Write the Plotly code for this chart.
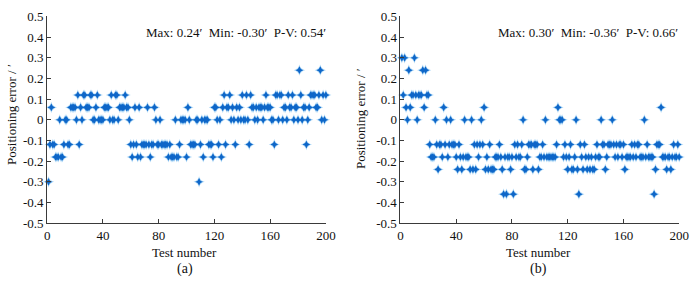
import plotly.graph_objects as go

# ---------------- data ----------------
test_a = list(range(1, 201))
err_a = [
    -0.30, -0.12, 0.06, -0.12, -0.12, -0.18, -0.18, -0.18, 0, -0.18,
    -0.18, -0.12, 0, 0, -0.12, -0.12, 0.06, 0.06, 0.06, 0.06,
    0, 0.12, -0.12, 0.06, 0, 0.12, 0.12, 0.06, 0.06, 0.06,
    0.12, 0.12, 0, 0, 0.06, 0.12, 0, 0, 0, 0,
    0.06, 0.06, 0.06, 0.06, 0, 0.12, 0, 0, 0.12, 0.12,
    0, 0.06, 0.06, 0.06, 0.06, 0.12, 0.06, 0.06, 0, -0.12,
    -0.18, -0.12, 0.06, -0.12, -0.18, 0.06, -0.18, -0.12, -0.12, -0.12,
    -0.12, 0.06, -0.12, -0.18, -0.12, -0.12, 0.06, 0, -0.12, -0.12,
    0, -0.12, -0.12, -0.12, -0.12, -0.12, -0.18, -0.12, -0.18, -0.18,
    -0.18, 0, -0.18, -0.18, -0.12, 0, 0, 0, 0, -0.18,
    0.06, 0, -0.12, -0.12, -0.12, -0.12, 0, 0, -0.30, -0.12,
    0, -0.18, 0, 0, 0, -0.12, -0.12, -0.12, -0.18, 0.06,
    0.06, 0, -0.12, 0, -0.18, 0.06, 0.12, -0.12, 0.06, 0.06,
    0.12, 0, 0.06, 0, -0.12, 0.06, 0, 0.06, 0, 0.12,
    0, 0, 0.12, 0, -0.12, 0.12, 0.06, 0.06, 0, 0.06,
    0, 0.06, 0.06, 0.06, 0, 0.06, 0.12, 0.06, 0.06, 0.06,
    0, 0, -0.12, 0.12, 0.12, 0, 0.12, 0.12, 0, 0.06,
    0.06, 0, 0.12, 0.06, 0.06, 0.12, 0, 0.06, 0.06, 0,
    0.24, 0.12, 0, 0.06, 0.06, -0.12, 0, 0.06, 0.12, 0.12,
    0.12, 0.12, 0.06, 0.06, 0.12, 0.24, 0, 0.12, 0, 0.12,
]

test_b = list(range(1, 201))
err_b = [
    0.30, 0.12, 0.30, 0.06, 0, 0.24, 0.06, 0.12, 0.12, 0.30,
    0.12, 0, 0.12, 0.12, 0.12, 0.24, 0.06, 0.24, 0.12, 0.12,
    -0.12, -0.18, -0.18, -0.18, 0, -0.12, -0.24, -0.12, -0.12, -0.18,
    0.06, -0.12, 0, -0.18, -0.12, 0, -0.12, -0.12, -0.12, -0.18,
    -0.24, -0.12, -0.18, -0.24, -0.18, 0, -0.18, -0.18, -0.18, -0.24,
    0, -0.24, -0.12, -0.24, -0.12, -0.18, -0.12, 0, -0.12, 0.06,
    -0.24, -0.18, -0.24, -0.12, -0.24, -0.24, -0.24, -0.18, -0.18, -0.18,
    -0.12, -0.18, -0.24, -0.36, -0.18, -0.36, -0.18, -0.18, -0.24, -0.18,
    -0.36, -0.12, -0.18, -0.12, -0.18, -0.18, -0.12, 0, -0.24, -0.24,
    -0.18, -0.12, -0.12, -0.12, -0.24, -0.12, -0.12, -0.12, -0.24, -0.18,
    -0.18, -0.12, -0.18, 0, -0.18, -0.18, -0.18, -0.18, -0.18, -0.18,
    -0.18, -0.12, 0.06, 0, 0, 0, -0.18, -0.12, -0.18, -0.24,
    -0.18, -0.12, -0.24, -0.24, -0.18, 0, -0.24, -0.36, -0.12, -0.18,
    -0.24, -0.12, -0.18, -0.24, -0.18, -0.24, -0.18, -0.24, -0.24, -0.18,
    -0.12, -0.18, -0.18, 0, -0.12, -0.12, -0.24, -0.18, -0.12, -0.12,
    -0.12, 0, -0.12, -0.18, -0.12, -0.18, -0.12, -0.12, -0.18, -0.12,
    -0.24, -0.18, -0.18, -0.18, -0.18, -0.12, -0.18, -0.12, -0.18, -0.12,
    -0.12, -0.18, -0.18, -0.18, 0, -0.18, -0.12, -0.18, -0.18, -0.18,
    -0.18, -0.36, -0.24, -0.12, -0.12, -0.12, 0.06, -0.18, -0.18, -0.18,
    -0.24, -0.18, -0.18, -0.24, -0.18, -0.12, -0.18, -0.18, -0.12, -0.18,
]

x_ticks = [0, 40, 80, 120, 160, 200]
y_ticks = [0.5, 0.4, 0.3, 0.2, 0.1, 0, -0.1, -0.2, -0.3, -0.4, -0.5]
y_tick_labels = ["0.5", "0.4", "0.3", "0.2", "0.1", "0", "-0.1", "-0.2", "-0.3", "-0.4", "-0.5"]
stats_a = "Max: 0.24\u2032  Min: -0.30\u2032  P-V: 0.54\u2032"
stats_b = "Max: 0.30\u2032  Min: -0.36\u2032  P-V: 0.66\u2032"
y_title = "Positioning error / \u2032"
x_title = "Test number"
captions = ["(a)", "(b)"]

# ---------------- figure ----------------
W, H = 700, 288
FONT = "Liberation Serif"
AX = "#3a3a3a"

fig = go.Figure()

def add_points(x, y, xa, ya):
    fig.add_trace(go.Scatter(x=x, y=y, xaxis=xa, yaxis=ya, mode="markers",
                             marker=dict(symbol="star-diamond", size=8, color="rgba(120,190,240,0.6)",
                                         line=dict(width=0)),
                             cliponaxis=False, showlegend=False, hoverinfo="skip"))
    fig.add_trace(go.Scatter(x=x, y=y, xaxis=xa, yaxis=ya, mode="markers",
                             marker=dict(symbol="star-diamond", size=5.5, color="#0e66c8",
                                         line=dict(width=0)),
                             cliponaxis=False, showlegend=False))

add_points(test_a, err_a, "x", "y")
add_points(test_b, err_b, "x2", "y2")

ydom = [1 - 228 / H, 1 - 10 / H]
dom_a = [45 / W, 329 / W]
dom_b = [405 / W, 689 / W]

axis_common = dict(showline=True, linecolor=AX, linewidth=1, ticks="inside", ticklen=4,
                   tickcolor=AX, tickwidth=1, showgrid=False, zeroline=False,
                   tickfont=dict(family=FONT, size=13, color="#111"), mirror=False)

fig.update_layout(
    width=W, height=H, margin=dict(l=0, r=0, t=0, b=0),
    paper_bgcolor="white", plot_bgcolor="white",
    xaxis=dict(domain=dom_a, range=[0, 200], tickvals=x_ticks, anchor="y", **axis_common),
    yaxis=dict(domain=ydom, range=[-0.5, 0.5], tickvals=y_ticks, ticktext=y_tick_labels,
               anchor="x", **axis_common),
    xaxis2=dict(domain=dom_b, range=[0, 200], tickvals=x_ticks, anchor="y2", **axis_common),
    yaxis2=dict(domain=ydom, range=[-0.5, 0.5], tickvals=y_ticks, ticktext=y_tick_labels,
                anchor="x2", **axis_common),
)

def ann(text, x, y, size=13, angle=0, xanchor="center"):
    fig.add_annotation(text=text, x=x / W, y=1 - y / H, xref="paper", yref="paper",
                       showarrow=False, textangle=angle, xanchor=xanchor, yanchor="middle",
                       font=dict(family=FONT, size=size, color="#111"))

ann(stats_a, 331, 27, xanchor="right")
ann(stats_b, 690, 27, xanchor="right")
ann(y_title, 8, 113, angle=-90)
ann(y_title, 365, 118, angle=-90)
ann(x_title, 185, 259)
ann(x_title, 546, 259)
ann(captions[0], 185, 276, size=14)
ann(captions[1], 546, 276, size=14)

fig.write_html("out.html", config={"displayModeBar": False},
               post_script="document.body.style.margin='0';")
